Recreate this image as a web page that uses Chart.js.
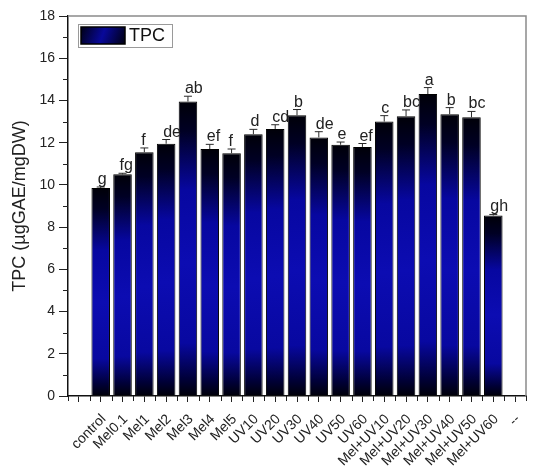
<!DOCTYPE html>
<html>
<head>
<meta charset="utf-8">
<script src="https://cdn.jsdelivr.net/npm/chart.js@4.4.1/dist/chart.umd.min.js"></script>
<style>
  html, body { margin: 0; padding: 0; background: #ffffff; }
  #wrap { width: 536px; height: 470px; }
</style>
</head>
<body>
<div id="wrap"><canvas id="c" width="536" height="470"></canvas></div>
<script>
// Treatments on the x axis (an empty slot before and a "--" slot after the groups)
const categories = ['', 'control', 'Mel0.1', 'Mel1', 'Mel2', 'Mel3', 'Mel4', 'Mel5',
  'UV10', 'UV20', 'UV30', 'UV40', 'UV50', 'UV60',
  'Mel+UV10', 'Mel+UV20', 'Mel+UV30', 'Mel+UV40', 'Mel+UV50', 'Mel+UV60', '--'];

// Total phenolic content (µgGAE/mgDW)
const tpcValues = [null, 9.85, 10.5, 11.55, 11.95, 13.95, 11.7, 11.5,
  12.4, 12.65, 13.3, 12.25, 11.9, 11.8,
  13.0, 13.25, 14.3, 13.35, 13.2, 8.55, null];

// Standard errors
const tpcErrors = [null, 0.05, 0.05, 0.2, 0.2, 0.25, 0.22, 0.2,
  0.23, 0.2, 0.27, 0.27, 0.13, 0.16,
  0.28, 0.3, 0.31, 0.31, 0.28, 0.05, null];

// Significance letters
const sigLetters = ['', 'g', 'fg', 'f', 'de', 'ab', 'ef', 'f',
  'd', 'cd', 'b', 'de', 'e', 'ef',
  'c', 'bc', 'a', 'b', 'bc', 'gh', ''];

// Y axis ticks
const yTicks = [0, 2, 4, 6, 8, 10, 12, 14, 16, 18];

const FONT = "'Liberation Sans', Arial, sans-serif";

function barGradient(ctx, top, bottom) {
  const g = ctx.createLinearGradient(0, top, 0, bottom);
  g.addColorStop(0, '#000008');
  g.addColorStop(0.1, '#000024');
  g.addColorStop(0.3, '#0707a0');
  g.addColorStop(0.55, '#0c0cb2');
  g.addColorStop(0.82, '#0808a0');
  g.addColorStop(0.94, '#00003a');
  g.addColorStop(1, '#000008');
  return g;
}

// Error bars, significance letters, minor ticks, frame and legend box
const decorations = {
  id: 'decorations',
  afterDatasetsDraw(chart) {
    const ctx = chart.ctx;
    const x = chart.scales.x, y = chart.scales.y;
    const area = chart.chartArea;
    ctx.save();

    // error bars
    ctx.strokeStyle = '#2a2a2a';
    ctx.lineWidth = 1;
    tpcValues.forEach((v, i) => {
      if (v === null) return;
      const cx = x.getPixelForValue(i);
      const yTop = y.getPixelForValue(v + tpcErrors[i]);
      const yBar = y.getPixelForValue(v);
      ctx.beginPath();
      ctx.moveTo(cx, yBar); ctx.lineTo(cx, yTop);
      ctx.moveTo(cx - 4, yTop); ctx.lineTo(cx + 4, yTop);
      ctx.stroke();
    });

    // significance letters
    ctx.fillStyle = '#222';
    ctx.font = '16px ' + FONT;
    ctx.textAlign = 'left';
    ctx.textBaseline = 'alphabetic';
    tpcValues.forEach((v, i) => {
      if (v === null) return;
      const cx = x.getPixelForValue(i);
      const yTop = y.getPixelForValue(v + tpcErrors[i]);
      ctx.fillText(sigLetters[i], cx - 3, yTop - 3);
    });

    // frame: top and right
    ctx.strokeStyle = '#8a8a8a';
    ctx.lineWidth = 1.5;
    ctx.beginPath();
    ctx.moveTo(area.left, area.top); ctx.lineTo(area.right, area.top);
    ctx.lineTo(area.right, area.bottom);
    ctx.stroke();

    // y minor ticks
    ctx.strokeStyle = '#222';
    ctx.lineWidth = 1;
    for (let v = 1; v < 18; v += 2) {
      const py = Math.round(y.getPixelForValue(v)) + 0.5;
      ctx.beginPath();
      ctx.moveTo(area.left - 5, py); ctx.lineTo(area.left, py);
      ctx.stroke();
    }
    // x minor ticks between categories
    const half = (x.getPixelForValue(1) - x.getPixelForValue(0)) / 2;
    for (let i = 0; i <= categories.length; i++) {
      const px = Math.round(x.getPixelForValue(i) - half) + 0.5;
      if (px < area.left || px > area.right + 1) continue;
      ctx.beginPath();
      ctx.moveTo(px, area.bottom); ctx.lineTo(px, area.bottom + 5);
      ctx.stroke();
    }

    // legend box
    ctx.fillStyle = '#ffffff';
    ctx.fillRect(78.5, 24.5, 94, 23);
    ctx.strokeStyle = '#9a9a9a';
    ctx.lineWidth = 1;
    ctx.strokeRect(78.5, 24.5, 94, 23);
    const lg = ctx.createLinearGradient(80, 27, 125, 44);
    lg.addColorStop(0, '#000010');
    lg.addColorStop(0.5, '#08089a');
    lg.addColorStop(1, '#000010');
    ctx.fillStyle = lg;
    ctx.fillRect(81, 27, 44, 17);
    ctx.strokeStyle = '#000';
    ctx.lineWidth = 1.5;
    ctx.strokeRect(81, 27, 44, 17);
    ctx.fillStyle = '#111';
    ctx.font = '18px ' + FONT;
    ctx.textBaseline = 'middle';
    ctx.fillText('TPC', 129, 36.5);

    ctx.restore();
  }
};

new Chart(document.getElementById('c'), {
  type: 'bar',
  data: {
    labels: categories,
    datasets: [{
      label: 'TPC',
      data: tpcValues,
      backgroundColor(context) {
        const chart = context.chart;
        if (!chart.chartArea || context.raw === null || context.raw === undefined) return '#07079a';
        const ys = chart.scales.y;
        return barGradient(chart.ctx, ys.getPixelForValue(context.raw), ys.getPixelForValue(0));
      },
      borderColor: '#000000',
      borderWidth: 1,
      barPercentage: 0.85,
      categoryPercentage: 1.0
    }]
  },
  options: {
    responsive: false,
    animation: false,
    devicePixelRatio: 1,
    layout: { padding: { top: 16, right: 1, left: 0, bottom: 0 } },
    plugins: {
      legend: { display: false },
      tooltip: { enabled: false }
    },
    scales: {
      x: {
        offset: true,
        grid: { display: true, drawOnChartArea: false, offset: false, tickLength: 6, color: '#222', tickColor: '#222' },
        border: { display: true, color: '#111', width: 1.5 },
        ticks: {
          autoSkip: false,
          maxRotation: 45,
          minRotation: 45,
          padding: 9,
          labelOffset: 3,
          color: '#222',
          font: { family: FONT, size: 14 }
        },
        afterFit(scale) { scale.height = 74; }
      },
      y: {
        min: 0,
        max: 18,
        afterBuildTicks(scale) { scale.ticks = yTicks.map(v => ({ value: v })); },
        grid: { display: true, drawOnChartArea: false, tickLength: 9, color: '#222', tickColor: '#222' },
        border: { display: true, color: '#111', width: 1.5 },
        ticks: {
          padding: 4,
          color: '#222',
          font: { family: FONT, size: 14 }
        },
        title: {
          display: true,
          text: 'TPC (µgGAE/mgDW)',
          color: '#222',
          font: { family: FONT, size: 18 },
          padding: { top: 9, bottom: 0 }
        },
        afterFit(scale) { scale.width = 68; }
      }
    }
  },
  plugins: [decorations]
});
</script>
</body>
</html>
